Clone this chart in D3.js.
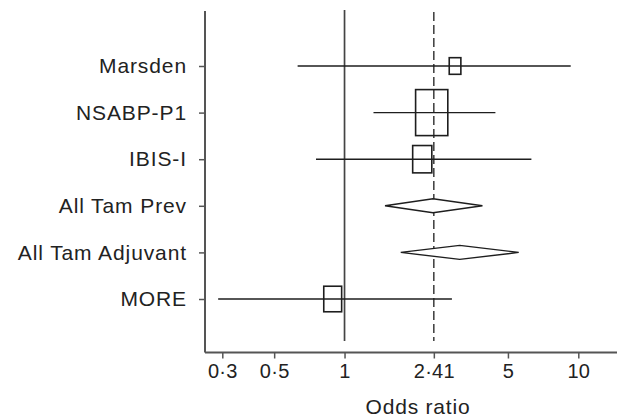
<!DOCTYPE html>
<html>
<head>
<meta charset="utf-8">
<script src="https://cdn.jsdelivr.net/npm/d3@7"></script>
<style>
  html, body { margin: 0; padding: 0; background: #fff; }
  svg { display: block; }
  text { font-family: "Liberation Sans", Arial, Helvetica, sans-serif; fill: #222; }
</style>
</head>
<body>
<svg id="chart" width="617" height="418"></svg>
<script>
// ---- data ----
const studies = ["Marsden", "NSABP-P1", "IBIS-I", "All Tam Prev", "All Tam Adjuvant", "MORE"];
const oddsRatio = [2.97, 2.36, 2.15, 2.39, 3.11, 0.89];
const lowerCI   = [0.63, 1.33, 0.755, 1.49, 1.74, 0.288];
const upperCI   = [9.28, 4.42, 6.3, 3.89, 5.56, 2.88];
const markType  = ["box", "box", "box", "diamond", "diamond", "box"];
const weights   = [8.8, 67.4, 23.8, 0, 0, 20.8];
const tickValues = [0.3, 0.5, 1, 2.41, 5, 10];
const tickLabels = ["0·3", "0·5", "1", "2·41", "5", "10"];
const refSolid = 1;
const refDashed = 2.41;
const xTitle = "Odds ratio";

const rows = studies.map((s, i) => ({
  name: s, or: oddsRatio[i], lo: lowerCI[i], hi: upperCI[i], type: markType[i], w: weights[i]
}));

// ---- layout ----
const svg = d3.select("#chart");
const axisX = 205, axisY = 352.5, topY = 11;

const x = d3.scaleLog().domain([0.253, 14.64]).range([axisX, 617]);
const y = d3.scalePoint().domain(studies).range([66, 299]);
const boxH = d3.scaleSqrt().domain([0, 67.4]).range([0, 46]);
const diamondHalf = 7;
const ink = "#1e1e1e";

// reference lines
svg.append("line")
  .attr("x1", x(refSolid)).attr("x2", x(refSolid))
  .attr("y1", topY - 1).attr("y2", 341)
  .attr("stroke", "#444").attr("stroke-width", 1.7);
svg.append("line")
  .attr("x1", x(refDashed)).attr("x2", x(refDashed))
  .attr("y1", topY + 1).attr("y2", 341)
  .attr("stroke", ink).attr("stroke-width", 1.3)
  .attr("stroke-dasharray", "9,4");

// CI lines for studies
const studyRows = rows.filter(d => d.type === "box");
svg.append("g").selectAll("line").data(studyRows).join("line")
  .attr("x1", d => x(d.lo)).attr("x2", d => x(d.hi))
  .attr("y1", d => y(d.name)).attr("y2", d => y(d.name))
  .attr("stroke", ink).attr("stroke-width", 1.4);

// boxes
svg.append("g").selectAll("rect").data(studyRows).join("rect")
  .attr("x", d => x(d.or) - boxH(d.w) * 0.7 / 2)
  .attr("y", d => y(d.name) - boxH(d.w) / 2)
  .attr("width", d => boxH(d.w) * 0.7)
  .attr("height", d => boxH(d.w))
  .attr("fill", "none")
  .attr("stroke", ink).attr("stroke-width", 1.6);

// diamonds
const pooled = rows.filter(d => d.type === "diamond");
svg.append("g").selectAll("path").data(pooled).join("path")
  .attr("d", d => {
    const cy = y(d.name);
    return `M${x(d.lo)},${cy} L${x(d.or)},${cy - diamondHalf} L${x(d.hi)},${cy} L${x(d.or)},${cy + diamondHalf} Z`;
  })
  .attr("fill", "#fff")
  .attr("stroke", ink).attr("stroke-width", 1.4);

// x axis
const xAxis = d3.axisBottom(x).tickValues(tickValues)
  .tickFormat((d, i) => tickLabels[i]).tickSize(6).tickPadding(5);
const gx = svg.append("g").attr("transform", `translate(0,${axisY})`).call(xAxis);
gx.select(".domain").attr("d", `M${axisX},0H617`).attr("stroke", "#555").attr("stroke-width", 2);
gx.selectAll(".tick line").attr("stroke", "#555").attr("stroke-width", 1.5);
gx.selectAll(".tick text").attr("font-size", 20).attr("fill", ink)
  .attr("letter-spacing", 0.3)
  .attr("font-family", "Liberation Sans, Arial, sans-serif");

// y axis
const yAxis = d3.axisLeft(y).tickSize(6).tickPadding(12);
const gy = svg.append("g").attr("transform", `translate(${axisX},0)`).call(yAxis);
gy.select(".domain").attr("d", `M0,${topY}V${axisY}`).attr("stroke", "#555").attr("stroke-width", 2);
gy.selectAll(".tick line").attr("stroke", "#555").attr("stroke-width", 1.5);
gy.selectAll(".tick text").attr("font-size", 21).attr("fill", ink)
  .attr("letter-spacing", 0.9)
  .attr("font-family", "Liberation Sans, Arial, sans-serif");

// x title
svg.append("text")
  .attr("x", 418).attr("y", 414)
  .attr("text-anchor", "middle")
  .attr("font-size", 21)
  .attr("letter-spacing", 0.8)
  .text(xTitle);
</script>
</body>
</html>
